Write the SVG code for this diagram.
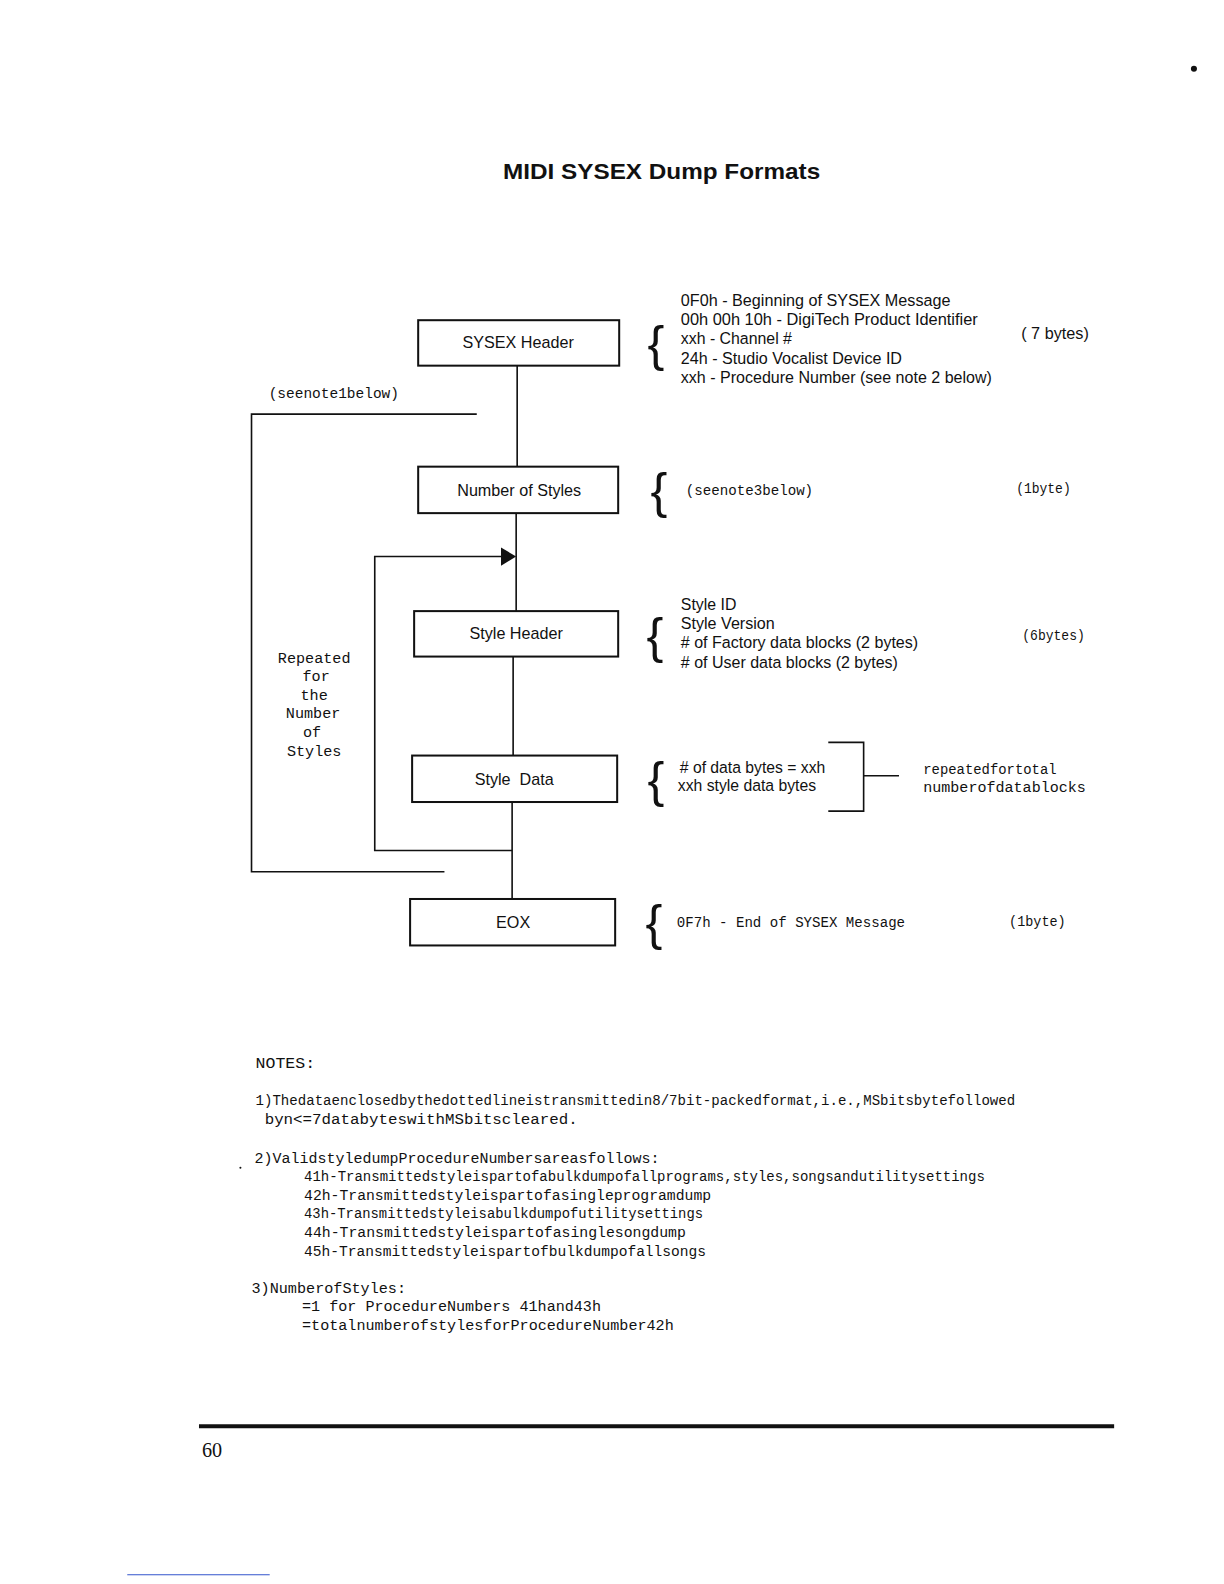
<svg xmlns="http://www.w3.org/2000/svg" width="1224" height="1584" viewBox="0 0 1224 1584">
<style>
.box{fill:#fff;stroke:#111;stroke-width:2}
.ln{fill:none;stroke:#111;stroke-width:1.6}
.lbl{font-family:"Liberation Sans",Arial,sans-serif;font-size:16px;fill:#111;text-anchor:middle}
.ss{font-family:"Liberation Sans",Arial,sans-serif;font-size:15.5px;fill:#111}
.mono{font-family:"Liberation Mono","Courier New",monospace;font-size:15px;fill:#111}
.br{font-family:"Liberation Sans",Arial,sans-serif;font-size:50px;fill:#111}
</style>
<rect width="1224" height="1584" fill="#fff"/>
<g transform="scale(1.0101)">
<circle cx="1182" cy="68" r="3" fill="#111"/>
<text x="655" y="177" text-anchor="middle" font-family="Liberation Sans,Arial,sans-serif" font-size="22" font-weight="bold" fill="#111" textLength="314" lengthAdjust="spacingAndGlyphs">MIDI SYSEX Dump Formats</text>

<g id="connectors">
<line class="ln" x1="512" y1="362" x2="512" y2="462"/>
<line class="ln" x1="511" y1="508" x2="511" y2="605"/>
<line class="ln" x1="508" y1="650" x2="508" y2="748"/>
<line class="ln" x1="507" y1="794" x2="507" y2="890"/>
<polyline class="ln" points="497,551 371,551 371,842 507,842"/>
<polygon points="511,551 496,542 496,560" fill="#111"/>
<polyline class="ln" points="472,410 249,410 249,863 440,863"/>
<polyline class="ln" points="820,735 855,735 855,803 820,803"/>
<line class="ln" x1="855" y1="768" x2="890" y2="768"/>
</g>

<g id="sysex-header">
<rect class="box" x="414" y="317" width="199" height="45"/>
<text class="lbl" x="513" y="345">SYSEX Header</text>
</g>
<g id="number-of-styles">
<rect class="box" x="414" y="462" width="198" height="46"/>
<text class="lbl" x="514" y="491">Number of Styles</text>
</g>
<g id="style-header">
<rect class="box" x="410" y="605" width="202" height="45"/>
<text class="lbl" x="511" y="633">Style Header</text>
</g>
<g id="style-data">
<rect class="box" x="408" y="748" width="203" height="46"/>
<text class="lbl" x="509" y="777" xml:space="preserve">Style  Data</text>
</g>
<g id="eox">
<rect class="box" x="406" y="890" width="203" height="46"/>
<text class="lbl" x="508" y="919">EOX</text>
</g>

<g id="sysex-desc">
<text class="br" x="641" y="357">{</text>
<text class="ss" x="674" y="303" textLength="267" lengthAdjust="spacingAndGlyphs">0F0h - Beginning of SYSEX Message</text>
<text class="ss" x="674" y="322" textLength="294" lengthAdjust="spacingAndGlyphs">00h 00h 10h - DigiTech Product Identifier</text>
<text class="ss" x="674" y="341" textLength="110" lengthAdjust="spacingAndGlyphs">xxh - Channel #</text>
<text class="ss" x="674" y="360" textLength="219" lengthAdjust="spacingAndGlyphs">24h - Studio Vocalist Device ID</text>
<text class="ss" x="674" y="379" textLength="308" lengthAdjust="spacingAndGlyphs">xxh - Procedure Number (see note 2 below)</text>
<text class="ss" x="1011" y="336" textLength="67" lengthAdjust="spacingAndGlyphs">( 7 bytes)</text>
</g>
<text class="mono" x="266" y="394" textLength="129" lengthAdjust="spacingAndGlyphs">(seenote1below)</text>

<g id="nstyles-desc">
<text class="br" x="644" y="503">{</text>
<text class="mono" x="679" y="490" textLength="126" lengthAdjust="spacingAndGlyphs">(seenote3below)</text>
<text class="mono" x="1006" y="488" textLength="54" lengthAdjust="spacingAndGlyphs">(1byte)</text>
</g>

<g id="style-header-desc">
<text class="br" x="640" y="646">{</text>
<text class="ss" x="674" y="604" textLength="55" lengthAdjust="spacingAndGlyphs">Style ID</text>
<text class="ss" x="674" y="623" textLength="93" lengthAdjust="spacingAndGlyphs">Style Version</text>
<text class="ss" x="674" y="642" textLength="235" lengthAdjust="spacingAndGlyphs"># of Factory data blocks (2 bytes)</text>
<text class="ss" x="674" y="661" textLength="215" lengthAdjust="spacingAndGlyphs"># of User data blocks (2 bytes)</text>
<text class="mono" x="1012" y="634" textLength="62" lengthAdjust="spacingAndGlyphs">(6bytes)</text>
</g>

<g id="repeat-label" class="mono" text-anchor="middle">
<text x="311" y="656">Repeated</text>
<text x="313" y="674">for</text>
<text x="311" y="693">the</text>
<text x="310" y="711">Number</text>
<text x="309" y="730">of</text>
<text x="311" y="748">Styles</text>
</g>

<g id="style-data-desc">
<text class="br" x="641" y="789">{</text>
<text class="ss" x="673" y="765" textLength="144" lengthAdjust="spacingAndGlyphs"># of data bytes = xxh</text>
<text class="ss" x="671" y="783" textLength="137" lengthAdjust="spacingAndGlyphs">xxh style data bytes</text>
<text class="mono" x="914" y="766" textLength="132" lengthAdjust="spacingAndGlyphs">repeatedfortotal</text>
<text class="mono" x="914" y="784" textLength="161" lengthAdjust="spacingAndGlyphs">numberofdatablocks</text>
</g>

<g id="eox-desc">
<text class="br" x="639" y="931">{</text>
<text class="mono" x="670" y="918" textLength="226" lengthAdjust="spacingAndGlyphs">0F7h - End of SYSEX Message</text>
<text class="mono" x="999" y="917" textLength="56" lengthAdjust="spacingAndGlyphs">(1byte)</text>
</g>

<g id="notes" class="mono">
<text x="253" y="1057" textLength="59" lengthAdjust="spacingAndGlyphs">NOTES:</text>
<text x="253" y="1094" textLength="752" lengthAdjust="spacingAndGlyphs">1)Thedataenclosedbythedottedlineistransmittedin8/7bit-packedformat,i.e.,MSbitsbytefollowed</text>
<text x="262" y="1113" textLength="310" lengthAdjust="spacingAndGlyphs">byn&lt;=7databyteswithMSbitscleared.</text>
<text x="252" y="1151" textLength="401" lengthAdjust="spacingAndGlyphs">2)ValidstyledumpProcedureNumbersareasfollows:</text>
<text x="301" y="1169" textLength="674" lengthAdjust="spacingAndGlyphs">41h-Transmittedstyleispartofabulkdumpofallprograms,styles,songsandutilitysettings</text>
<text x="301" y="1188" textLength="403" lengthAdjust="spacingAndGlyphs">42h-Transmittedstyleispartofasingleprogramdump</text>
<text x="301" y="1206" textLength="395" lengthAdjust="spacingAndGlyphs">43h-Transmittedstyleisabulkdumpofutilitysettings</text>
<text x="301" y="1225" textLength="378" lengthAdjust="spacingAndGlyphs">44h-Transmittedstyleispartofasinglesongdump</text>
<text x="301" y="1243" textLength="398" lengthAdjust="spacingAndGlyphs">45h-Transmittedstyleispartofbulkdumpofallsongs</text>
<text x="249" y="1280" textLength="153" lengthAdjust="spacingAndGlyphs">3)NumberofStyles:</text>
<text x="299" y="1298" textLength="296" lengthAdjust="spacingAndGlyphs">=1 for ProcedureNumbers 41hand43h</text>
<text x="299" y="1317" textLength="368" lengthAdjust="spacingAndGlyphs">=totalnumberofstylesforProcedureNumber42h</text>
</g>
<circle cx="238" cy="1156" r="1" fill="#111"/>

<line x1="197" y1="1412" x2="1103" y2="1412" stroke="#111" stroke-width="4"/>
<text x="200" y="1442" font-family="Liberation Serif,Times New Roman,serif" font-size="20" fill="#111">60</text>
<line x1="126" y1="1559" x2="267" y2="1559" stroke="#3355cc" stroke-width="1"/>
</g>
</svg>
